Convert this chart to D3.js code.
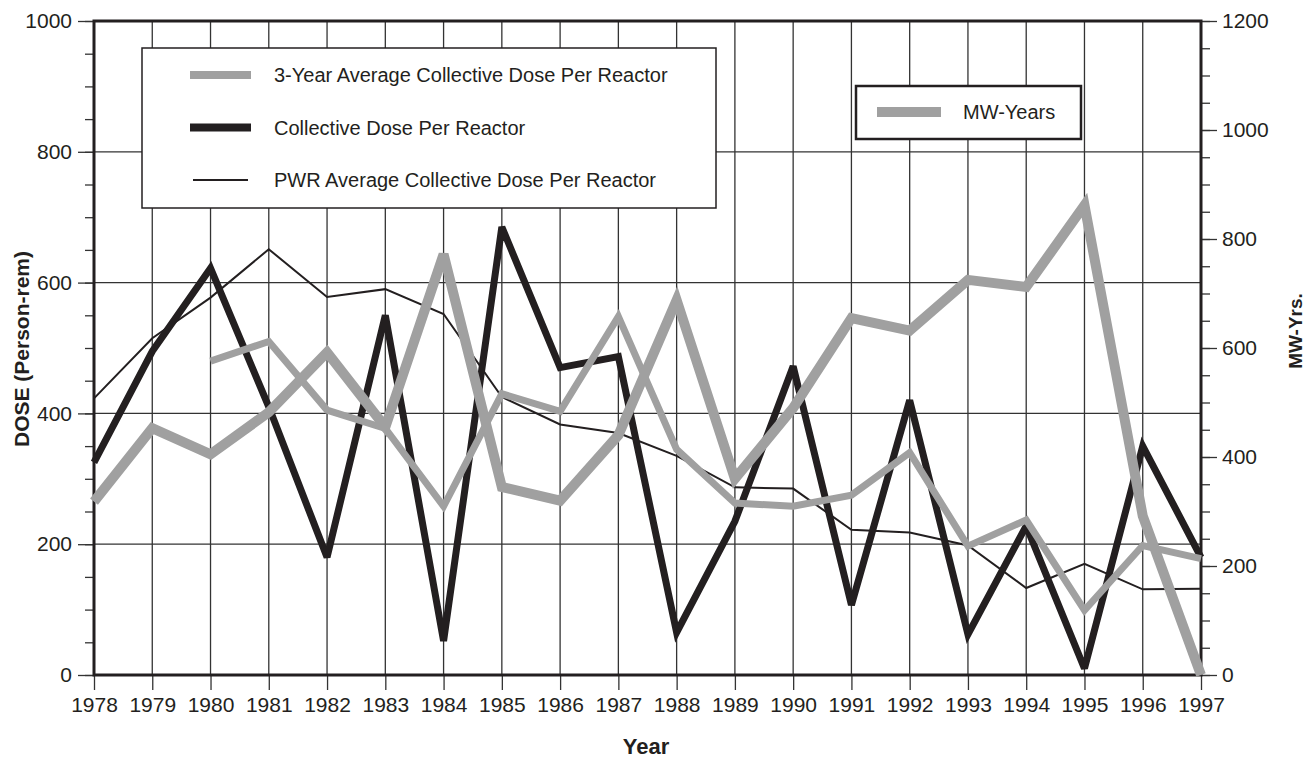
<!DOCTYPE html>
<html>
<head>
<meta charset="utf-8">
<script src="https://cdn.jsdelivr.net/npm/d3@7"></script>
<style>
  body { margin: 0; background: #fff; }
  svg { display: block; font-family: "Liberation Sans Narrow", "Arial Narrow", "Liberation Sans", Arial, sans-serif; }
</style>
</head>
<body>
<svg id="chart"></svg>
<script>
// Data
const years = [1978, 1979, 1980, 1981, 1982, 1983, 1984, 1985, 1986, 1987, 1988, 1989, 1990, 1991, 1992, 1993, 1994, 1995, 1996, 1997];
const collectiveDose = [325, 495, 622, 410, 180, 550, 52, 685, 470, 487, 65, 235, 472, 107, 420, 62, 228, 10, 350, 180];
const threeYearAvg = [null, null, 480, 510, 405, 377, 258, 430, 403, 548, 345, 263, 258, 275, 340, 197, 237, 99, 198, 178];
const pwrAvg = [423, 515, 577, 651, 578, 590, 552, 425, 383, 370, 335, 287, 285, 222, 218, 198, 133, 170, 131, 132];
const mwYears = [318, 453, 405, 482, 592, 455, 772, 345, 320, 440, 688, 360, 490, 655, 632, 725, 712, 862, 292, 0];
const doseTicks = [0, 200, 400, 600, 800, 1000];
const mwTicks = [0, 200, 400, 600, 800, 1000, 1200];

// Layout constants
const WIDTH = 1307;
const HEIGHT = 759;
const LEFT = 94, RIGHT = 1201, TOP = 21, BOTTOM = 675;
const GRAY = "#a0a0a0";
const BLACK = "#231f20";

const svg = d3.select("#chart")
  .attr("width", WIDTH)
  .attr("height", HEIGHT);

// Scales
const x = d3.scaleLinear().domain([1978, 1997]).range([LEFT, RIGHT]);
const yDose = d3.scaleLinear().domain([0, 1000]).range([BOTTOM, TOP]);
const yMw = d3.scaleLinear().domain([0, 1200]).range([BOTTOM, TOP]);

// Grid lines
svg.append("g")
  .selectAll("line")
  .data(years)
  .join("line")
  .attr("x1", d => x(d)).attr("x2", d => x(d))
  .attr("y1", TOP).attr("y2", BOTTOM)
  .attr("stroke", "#333").attr("stroke-width", 1.3);

svg.append("g")
  .selectAll("line")
  .data([200, 400, 600, 800])
  .join("line")
  .attr("x1", LEFT).attr("x2", RIGHT)
  .attr("y1", d => yDose(d)).attr("y2", d => yDose(d))
  .attr("stroke", "#333").attr("stroke-width", 1.3);

// Minor ticks (every 50 units)
svg.append("g")
  .attr("transform", `translate(${LEFT},0)`)
  .call(d3.axisLeft(yDose).tickValues(d3.range(0, 1001, 50)).tickSize(9).tickFormat(""))
  .call(g => g.select(".domain").remove())
  .selectAll("line").attr("stroke", "#333").attr("stroke-width", 1.3);

svg.append("g")
  .attr("transform", `translate(${RIGHT},0)`)
  .call(d3.axisRight(yMw).tickValues(d3.range(0, 1201, 50)).tickSize(9).tickFormat(""))
  .call(g => g.select(".domain").remove())
  .selectAll("line").attr("stroke", "#333").attr("stroke-width", 1.3);

// Major axes
const leftAxis = svg.append("g")
  .attr("transform", `translate(${LEFT},0)`)
  .call(d3.axisLeft(yDose).tickValues(doseTicks).tickFormat(d3.format("d")).tickSize(16).tickPadding(6));

const rightAxis = svg.append("g")
  .attr("transform", `translate(${RIGHT},0)`)
  .call(d3.axisRight(yMw).tickValues(mwTicks).tickFormat(d3.format("d")).tickSize(16).tickPadding(5));

const bottomAxis = svg.append("g")
  .attr("transform", `translate(0,${BOTTOM})`)
  .call(d3.axisBottom(x).tickValues(years).tickFormat(d3.format("d")).tickSize(15).tickPadding(7));

[leftAxis, rightAxis, bottomAxis].forEach(g => {
  g.select(".domain").remove();
  g.selectAll(".tick line").attr("stroke", "#333").attr("stroke-width", 1.3);
  g.selectAll("text").attr("font-size", 21).attr("fill", BLACK)
    .attr("font-family", null);
});

// Plot frame
svg.append("rect")
  .attr("x", LEFT).attr("y", TOP)
  .attr("width", RIGHT - LEFT).attr("height", BOTTOM - TOP)
  .attr("fill", "none").attr("stroke", BLACK).attr("stroke-width", 3);

// Lines
const lineDose = d3.line()
  .defined(d => d[1] !== null)
  .x(d => x(d[0])).y(d => yDose(d[1]));
const lineMw = d3.line()
  .x(d => x(d[0])).y(d => yMw(d[1]));

const series = [
  { values: pwrAvg, line: lineDose, color: BLACK, width: 2 },
  { values: collectiveDose, line: lineDose, color: BLACK, width: 7 },
  { values: threeYearAvg, line: lineDose, color: GRAY, width: 7 },
  { values: mwYears, line: lineMw, color: GRAY, width: 10 }
];

series.forEach(s => {
  svg.append("path")
    .datum(years.map((yr, i) => [yr, s.values[i]]))
    .attr("d", s.line)
    .attr("fill", "none")
    .attr("stroke", s.color)
    .attr("stroke-width", s.width)
    .attr("stroke-linejoin", "miter")
    .attr("stroke-miterlimit", 3);
});

// Legend (dose series)
const legend1 = svg.append("g");
legend1.append("rect")
  .attr("x", 142).attr("y", 48).attr("width", 574).attr("height", 160)
  .attr("fill", "#fff").attr("stroke", BLACK).attr("stroke-width", 1.5);

const legendItems = [
  { label: "3-Year Average Collective Dose Per Reactor", color: GRAY, width: 8 },
  { label: "Collective Dose Per Reactor", color: BLACK, width: 8 },
  { label: "PWR Average Collective Dose Per Reactor", color: BLACK, width: 2 }
];

legendItems.forEach((d, i) => {
  const cy = 75 + i * 52.5;
  legend1.append("line")
    .attr("x1", d.width > 2 ? 190 : 193).attr("x2", d.width > 2 ? 251 : 248)
    .attr("y1", cy).attr("y2", cy)
    .attr("stroke", d.color).attr("stroke-width", d.width);
  legend1.append("text")
    .attr("x", 274).attr("y", cy + 7)
    .attr("font-size", 20).attr("fill", BLACK)
    .text(d.label);
});

// Legend (MW-Years)
const legend2 = svg.append("g");
legend2.append("rect")
  .attr("x", 856).attr("y", 86).attr("width", 225).attr("height", 53)
  .attr("fill", "#fff").attr("stroke", BLACK).attr("stroke-width", 2.5);
legend2.append("line")
  .attr("x1", 877).attr("x2", 941).attr("y1", 112).attr("y2", 112)
  .attr("stroke", GRAY).attr("stroke-width", 10);
legend2.append("text")
  .attr("x", 963).attr("y", 119)
  .attr("font-size", 20).attr("fill", BLACK)
  .text("MW-Years");

// Axis titles
svg.append("text")
  .attr("transform", "translate(29,349) rotate(-90)")
  .attr("text-anchor", "middle")
  .attr("font-size", 21).attr("font-weight", "bold")
  .attr("fill", BLACK)
  .text("DOSE (Person-rem)");

svg.append("text")
  .attr("transform", "translate(1302,331) rotate(-90)")
  .attr("text-anchor", "middle")
  .attr("font-size", 19).attr("font-weight", "bold")
  .attr("fill", BLACK)
  .text("MW-Yrs.");

svg.append("text")
  .attr("x", 646).attr("y", 754)
  .attr("text-anchor", "middle")
  .attr("font-size", 22).attr("font-weight", "bold")
  .attr("fill", BLACK)
  .text("Year");
</script>
</body>
</html>
